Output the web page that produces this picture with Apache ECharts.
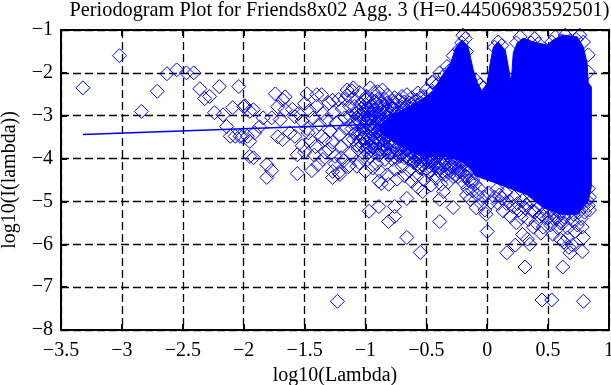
<!DOCTYPE html>
<html><head><meta charset="utf-8">
<style>html,body{margin:0;padding:0;background:#fff}#c{width:611px;height:385px}</style>
<script src="https://cdn.jsdelivr.net/npm/echarts@6/dist/echarts.min.js"></script>
</head><body><div id="c"></div>
<script>
const titleText = 'Periodogram Plot for Friends8x02 Agg. 3 (H=0.44506983592501)';
const xTitle = 'log10(Lambda)';
const yTitle = 'log10(I(lambda))';
// least-squares line
const fitLine = [[-3.32,-3.44],[-1.95,-3.30],[0.83,-3.04]];
// Solid core: thousands of overlapping diamonds in the source merge here; only its envelope is readable.
const bandLambda = [-0.88,-0.80,-0.70,-0.60,-0.50,-0.44,-0.39,-0.30,-0.26,-0.205,-0.156,-0.115,-0.08,-0.04,0,0.025,0.05,0.09,0.148,0.173,0.197,0.214,0.247,0.296,0.378,0.493,0.542,0.625,0.74,0.79,0.82,0.83,0.855];
const bandUpper = [-3.22,-3.02,-2.88,-2.72,-2.55,-2.42,-2.15,-1.77,-1.42,-1.23,-1.40,-1.93,-2.23,-2.44,-2.23,-1.77,-1.40,-1.28,-1.47,-1.86,-2.23,-1.53,-1.30,-1.19,-1.28,-1.35,-1.23,-1.12,-1.16,-1.40,-1.77,-2.23,-2.33];
const bandLowerLambda = [-0.88,-0.80,-0.70,-0.60,-0.50,-0.39,-0.33,-0.22,-0.14,-0.10,0.05,0.33,0.46,0.60,0.74,0.83,0.855];
const bandLower = [-3.38,-3.55,-3.72,-3.88,-3.96,-3.95,-3.95,-4.05,-4.22,-4.40,-4.55,-4.85,-5.15,-5.30,-5.30,-5.0,-4.65];
// individually readable diamonds
const sparseLeft = [[-3.32,-2.35],[-3.02,-1.60],[-2.63,-2.02],[-2.55,-1.93],[-2.47,-2.0],[-2.41,-2.0],[-2.71,-2.43],[-2.84,-2.90],[-2.36,-2.37],[-2.32,-2.60],[-2.28,-2.55],[-2.20,-2.32],[-2.04,-2.32],[-2.24,-2.93],[-2.09,-2.81],[-2.17,-2.98],[-2.14,-3.25],[-2.11,-3.48],[-2.07,-3.48],[-2.03,-3.48],[-1.99,-2.77],[-1.97,-3.48],[-1.95,-3.6],[-1.95,-3.95],[-1.74,-2.49],[-1.66,-2.56],[-1.68,-2.63],[-1.48,-2.49],[-1.40,-2.51],[-1.36,-2.51],[-2.0,-2.79],[-1.92,-2.86],[-1.95,-2.9],[-1.84,-3.05],[-1.72,-2.79],[-1.66,-2.86],[-1.77,-3.05],[-1.70,-3.09],[-1.87,-3.26],[-1.91,-3.4],[-2.01,-3.49],[-1.68,-3.56],[-1.62,-3.4],[-1.72,-3.49],[-1.92,-3.98],[-1.81,-4.14],[-1.77,-4.28],[-1.81,-4.44],[-1.56,-4.35],[-1.56,-3.91],[-1.44,-4.28],[-1.39,-4.14],[-1.27,-4.44],[-1.22,-4.33],[-1.27,-4.3],[-1.14,-4.19]];
const fanMiddle = [[-1.60,-2.85],[-1.58,-3.02],[-1.55,-2.95],[-1.52,-3.12],[-1.50,-2.72],[-1.48,-3.30],[-1.46,-2.88],[-1.45,-3.58],[-1.43,-3.05],[-1.41,-3.72],[-1.40,-2.78],[-1.38,-3.20],[-1.36,-3.48],[-1.35,-2.95],[-1.33,-3.85],[-1.32,-3.10],[-1.30,-2.70],[-1.29,-3.36],[-1.27,-3.62],[-1.26,-2.92],[-1.25,-3.95],[-1.24,-3.16],[-1.22,-2.62],[-1.21,-3.44],[-1.20,-3.72],[-1.19,-2.84],[-1.18,-4.05],[-1.17,-3.05],[-1.16,-3.30],[-1.15,-2.52],[-1.14,-3.58],[-1.13,-2.78],[-1.12,-3.88],[-1.11,-3.18],[-1.10,-2.60],[-1.09,-3.42],[-1.08,-2.95],[-1.07,-3.68],[-1.06,-3.10],[-1.05,-4.10],[-1.04,-2.72],[-1.03,-3.30],[-1.02,-3.52],[-1.01,-2.88],[-1.0,-3.82],[-0.99,-2.55],[-0.98,-3.05],[-0.97,-3.25],[-0.96,-3.96],[-0.95,-2.78],[-0.94,-3.45],[-0.93,-3.62],[-0.92,-2.95],[-0.91,-4.12],[-0.90,-3.15],[-0.89,-2.60],[-0.88,-3.78],[-0.87,-3.35],[-0.86,-2.82],[-0.85,-3.55],[-0.84,-4.02],[-0.83,-3.02],[-0.82,-2.70],[-0.81,-3.92],[-1.27,-2.64],[-1.17,-2.62],[-1.05,-2.46],[-0.93,-2.46],[-1.15,-2.40],[-1.10,-2.35],[-1.11,-2.42],[-0.96,-2.35],[-0.86,-2.40],[-0.76,-2.58],[-0.66,-2.51],[-0.57,-2.47],[-0.45,-2.23],[-0.42,-2.30],[-0.50,-2.40],[-0.70,-2.55],[-0.82,-2.52],[-0.90,-2.44],[-1.00,-2.62],[-0.78,-2.66],[-0.62,-2.58],[-1.33,-3.55],[-1.47,-3.40],[-1.52,-3.70],[-1.42,-3.92],[-1.30,-3.78],[-1.20,-3.98],[-1.58,-3.48],[-1.50,-3.85],[-1.35,-4.02],[-1.25,-4.12],[-1.13,-4.16],[-1.21,-4.37],[-1.0,-4.30],[-1.07,-4.18],[-0.94,-4.22]];
const fanDense = [[-1.12,-3.02],[-1.11,-3.30],[-1.10,-3.55],[-1.09,-2.78],[-1.08,-3.20],[-1.07,-2.88],[-1.06,-3.42],[-1.06,-3.78],[-1.05,-2.98],[-1.05,-3.58],[-1.04,-3.15],[-1.03,-2.84],[-1.03,-3.70],[-1.02,-3.26],[-1.01,-3.04],[-1.01,-3.96],[-1.00,-3.40],[-1.00,-2.74],[-0.99,-3.16],[-0.99,-3.62],[-0.98,-2.90],[-0.97,-3.48],[-0.97,-3.84],[-0.96,-3.02],[-0.96,-2.68],[-0.95,-3.30],[-0.95,-3.72],[-0.94,-2.86],[-0.94,-3.14],[-0.93,-3.86],[-0.93,-3.28],[-0.92,-2.66],[-0.92,-3.52],[-0.91,-3.04],[-0.91,-3.70],[-0.90,-2.80],[-0.90,-3.38],[-0.89,-3.92],[-0.89,-3.22],[-0.88,-2.94],[-0.88,-3.56],[-0.87,-2.72],[-0.87,-3.12],[-0.86,-3.68],[-0.86,-3.42],[-0.85,-2.92],[-0.85,-3.24],[-0.84,-2.62],[-0.84,-3.80],[-0.83,-3.50],[-0.83,-3.18],[-0.82,-2.86],[-0.82,-3.64],[-0.81,-3.34],[-0.81,-3.04],[-0.80,-2.76],[-0.80,-3.88],[-0.79,-3.56],[-0.79,-2.94],[-0.78,-3.72],[-0.78,-3.20],[-0.77,-2.84],[-0.77,-3.46],[-0.76,-3.96],[-0.76,-3.08],[-0.75,-2.72],[-0.75,-3.62],[-0.74,-3.34],[-0.74,-3.80],[-0.73,-2.92],[-0.72,-3.70],[-0.72,-2.64],[-0.71,-3.50],[-0.71,-3.04],[-0.70,-3.88],[-0.70,-2.80],[-0.69,-3.66],[-0.68,-2.68],[-0.68,-3.98],[-0.67,-3.78],[-0.66,-2.86],[-0.65,-3.90],[-0.64,-2.70],[-0.63,-4.02],[-0.62,-3.86],[-0.61,-2.80],[-0.60,-4.06],[-0.59,-3.92],[-0.58,-2.64],[-0.57,-4.12],[-0.56,-3.88],[-0.55,-2.58],[-0.54,-4.02],[-0.53,-3.94],[-0.52,-2.55],[-0.51,-4.10],[-0.49,-3.96],[-0.47,-4.18],[-0.46,-2.46],[-0.45,-4.02],[-0.43,-4.12],[-0.41,-3.96],[-0.40,-2.25],[-0.39,-4.22],[-0.37,-3.98],[-0.36,-4.16],[-0.35,-2.05],[-0.33,-3.92],[-0.32,-4.24],[-0.31,-1.95],[-0.30,-3.98],[-0.28,-3.88],[-0.27,-4.14],[-0.25,-3.96],[-0.23,-4.22],[-0.21,-3.82],[-0.20,-4.12],[-0.18,-3.95],[-0.16,-4.24]];
const fanDenser = [[-1.04,-3.44],[-1.02,-2.96],[-1.02,-3.66],[-1.00,-3.12],[-0.99,-3.32],[-0.98,-3.74],[-0.98,-2.82],[-0.97,-3.08],[-0.96,-3.52],[-0.96,-3.22],[-0.95,-2.94],[-0.94,-3.62],[-0.93,-3.06],[-0.92,-3.40],[-0.92,-3.78],[-0.91,-2.72],[-0.91,-3.26],[-0.90,-3.56],[-0.89,-3.00],[-0.88,-3.44],[-0.87,-3.84],[-0.86,-3.12],[-0.85,-2.74],[-0.85,-3.66],[-0.84,-3.32],[-0.83,-2.92],[-0.82,-3.44],[-0.82,-3.76],[-0.81,-3.14],[-0.80,-3.64],[-0.79,-3.26],[-0.78,-2.84],[-0.77,-3.84],[-0.76,-2.76],[-0.74,-2.96],[-0.72,-3.92],[-0.70,-3.76],[-0.68,-2.82],[-0.66,-3.94],[-0.64,-2.84],[-0.62,-2.74],[-0.60,-3.96],[-0.58,-4.02],[-0.56,-4.20],[-0.55,-2.70],[-0.53,-4.15],[-0.50,-4.24],[-0.48,-4.08],[-0.46,-4.28],[-0.44,-4.05],[-0.42,-4.22],[-0.40,-4.10],[-0.38,-4.34],[-0.35,-4.08],[-0.33,-4.30],[-0.31,-4.12],[-0.29,-4.32],[-0.26,-4.22],[-0.24,-4.42],[-0.22,-4.30],[-0.19,-4.28],[-0.17,-4.42],[-0.15,-4.52],[-0.12,-4.50]];
const lowerCloud = [[-0.89,-4.53],[-0.87,-4.58],[-0.81,-4.6],[-0.62,-4.53],[-0.57,-4.67],[-0.53,-4.77],[-0.36,-4.77],[-0.39,-4.95],[-0.66,-4.93],[-0.97,-5.23],[-0.89,-5.12],[-0.76,-5.12],[-0.81,-5.47],[-0.76,-5.35],[-0.39,-5.47],[-0.28,-5.14],[-0.66,-5.84],[-0.55,-6.19],[-1.23,-7.33],[-0.88,-4.3],[-0.82,-4.38],[-0.76,-4.25],[-0.74,-4.48],[-0.70,-4.18],[-0.68,-4.40],[-0.64,-4.28],[-0.60,-4.10],[-0.58,-4.42],[-0.55,-4.22],[-0.52,-4.50],[-0.50,-4.05],[-0.48,-4.32],[-0.46,-4.62],[-0.44,-4.15],[-0.42,-4.46],[-0.40,-4.28],[-0.38,-4.60],[-0.36,-4.05],[-0.34,-4.38],[-0.32,-4.55],[-0.30,-4.18],[-0.28,-4.42],[-0.26,-4.02],[-0.24,-4.30],[-0.22,-4.12],[-0.78,-4.02],[-0.72,-3.95],[-0.65,-4.0],[-0.56,-3.98],[-0.47,-3.95],[-0.41,-3.90],[-0.34,-3.85],[-0.29,-3.75],[-0.25,-3.70],[-0.20,-3.90],[-0.17,-4.15],[-0.18,-4.4],[-0.15,-4.3],[-0.13,-4.55],[-0.16,-4.7],[-0.12,-4.75],[-0.10,-4.60],[-0.08,-4.85],[-0.14,-4.95],[-0.06,-4.72],[-0.05,-5.05],[-0.09,-5.15],[-0.03,-4.90],[-0.02,-5.2],[0.01,-4.8],[-0.01,-5.3],[0.03,-5.02],[-0.17,-4.85],[-0.2,-4.55]];
const lowerRight = [[0.45,-7.3],[0.53,-7.3],[0.79,-7.33],[0.31,-6.53],[0.62,-6.53],[0.16,-6.2],[0,-5.7],[0.78,-6.17],[0.68,-6.2],[0.79,-5.84],[0.72,-5.7],[0.23,-6.02],[0.29,-5.77],[0.35,-6.0],[0.33,-5.88],[0.38,-5.6],[0.44,-5.74],[0.54,-5.77],[0.6,-5.88],[0.63,-5.95],[0.67,-6.07],[0.6,-5.5],[0.70,-6.02],[0.66,-5.85],[0.10,-4.85],[0.13,-5.22],[0.16,-5.05],[0.19,-5.35],[0.21,-5.12],[0.24,-5.5],[0.26,-5.2],[0.28,-5.38],[0.31,-5.15],[0.34,-5.42],[0.37,-5.22],[0.40,-5.5],[0.43,-5.35],[0.46,-5.6],[0.49,-5.4],[0.52,-5.55],[0.55,-5.42],[0.58,-5.62],[0.62,-5.5],[0.66,-5.62],[0.70,-5.45],[0.74,-5.55],[0.77,-5.4],[0.80,-5.25],[0.83,-5.1],[0.84,-4.9],[0.83,-4.7],[0.84,-5.2],[0.78,-5.6],[0.06,-4.9],[0.09,-5.05],[0.83,-1.58],[0.83,-1.98],[0.08,-4.72],[0.12,-4.92],[0.15,-4.8],[0.18,-5.0],[0.22,-4.9],[0.25,-5.05],[0.29,-4.98],[0.32,-5.08],[0.36,-5.0],[0.39,-5.25],[0.42,-5.14],[0.45,-5.32],[0.48,-5.22],[0.51,-5.36],[0.54,-5.26],[0.57,-5.4],[0.60,-5.28],[0.63,-5.36],[0.67,-5.28],[0.71,-5.3],[0.75,-5.25],[0.79,-5.12],[0.82,-4.98]];
const topEdge = [[-0.2,-1.12],[-0.21,-1.3],[-0.18,-1.2],[-0.23,-1.45],[-0.17,-1.5],[0.09,-1.28],[0.06,-1.4],[0.12,-1.36],[0.27,-1.16],[0.24,-1.3],[0.39,-1.2],[0.36,-1.3],[0.42,-1.32],[0.56,-1.16],[0.53,-1.28],[0.64,-1.12],[0.61,-1.25],[0.68,-1.25],[0.76,-1.12],[0.73,-1.22],[0.79,-1.28],[-0.06,-2.28],[-0.09,-2.18],[-0.03,-2.35],[-0.45,-2.21],[-0.39,-2.0],[-0.33,-1.85],[-0.28,-1.6]];
const allPoints = [...sparseLeft, ...fanMiddle, ...fanDense, ...fanDenser, ...lowerCloud, ...lowerRight, ...topEdge];

const BLUE = '#0000ff', FONT = '"Liberation Serif"';
const minus = v => String(v).replace('-', '\u2212');
const labelStyle = {fontFamily: FONT, fontSize: 20, color: '#000'};
const chart = echarts.init(document.getElementById('c'));
chart.setOption({
  animation: false,
  title: {text: titleText, left: 334.5, top: -4, textAlign: 'center',
    textStyle: {fontFamily: FONT, fontSize: 20.3, fontWeight: 'normal', color: '#000'}},
  grid: {left: 61, top: 30, right: 2, bottom: 55, outerBoundsMode: 'none'},
  xAxis: [{type: 'value', min: -3.5, max: 1, interval: 0.5, position: 'bottom',
      name: xTitle, nameLocation: 'middle', nameGap: 35, nameTextStyle: labelStyle,
      axisLine: {onZero: false, lineStyle: {color: '#000', width: 2}},
      axisTick: {inside: true, length: 6, lineStyle: {color: '#000', width: 2}},
      axisLabel: {...labelStyle, margin: 11, showMinLabel: true, showMaxLabel: true, hideOverlap: false, formatter: minus},
      splitLine: {show: true, lineStyle: {color: '#000', width: 1.3, type: [8, 4]}}},
    {type: 'value', min: -3.5, max: 1, interval: 0.5, position: 'top', z: 5,
      axisLine: {onZero: false, lineStyle: {color: '#000', width: 2}},
      axisTick: {inside: true, length: 6, lineStyle: {color: '#000', width: 2}},
      axisLabel: {show: false}, splitLine: {show: false}}],
  yAxis: [{type: 'value', min: -8, max: -1, interval: 1, position: 'left',
      name: yTitle, nameLocation: 'middle', nameGap: 41, nameTextStyle: labelStyle,
      axisLine: {onZero: false, lineStyle: {color: '#000', width: 2}},
      axisTick: {inside: true, length: 6, lineStyle: {color: '#000', width: 2}},
      axisLabel: {...labelStyle, margin: 8, showMinLabel: true, showMaxLabel: true, hideOverlap: false, formatter: minus},
      splitLine: {show: true, lineStyle: {color: '#000', width: 1.3, type: [8, 4]}}},
    {type: 'value', min: -8, max: -1, interval: 1, position: 'right', z: 5,
      axisLine: {onZero: false, lineStyle: {color: '#000', width: 2}},
      axisTick: {inside: true, length: 6, lineStyle: {color: '#000', width: 2}},
      axisLabel: {show: false}, splitLine: {show: false}}],
  series: [
    {type: 'custom', silent: true, clip: true, z: 2, data: [0],
      renderItem: (p, api) => {
        const pts = bandLambda.map((x, i) => api.coord([x, bandUpper[i]]));
        for (let i = bandLowerLambda.length - 1; i >= 0; i--) pts.push(api.coord([bandLowerLambda[i], bandLower[i]]));
        return {type: 'polygon', shape: {points: pts}, style: {fill: BLUE, stroke: BLUE}};
      }},
    {type: 'scatter', symbol: 'diamond', symbolSize: 14, silent: true, z: 3, data: allPoints,
      itemStyle: {color: 'transparent', borderColor: BLUE, borderWidth: 1, opacity: 1}},
    {type: 'line', symbol: 'none', silent: true, z: 4, data: fitLine,
      lineStyle: {color: BLUE, width: 1.6}}
  ]
});
</script></body></html>
